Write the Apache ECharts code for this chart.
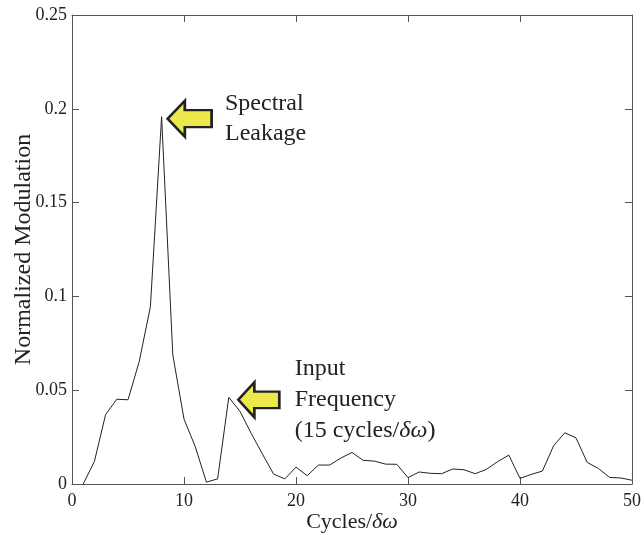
<!DOCTYPE html>
<html>
<head>
<meta charset="utf-8">
<script src="https://cdn.jsdelivr.net/npm/echarts@6/dist/echarts.min.js"></script>
<style>html,body{margin:0;padding:0;background:#fff}#c{width:642px;height:535px}</style>
</head>
<body>
<div id="c"></div>
<script>
var cycles = [1,2,3,4,5,6,7,8,9,10,11,12,13,14,15,16,17,18,19,20,21,22,23,24,25,26,27,28,29,30,31,32,33,34,35,36,37,38,39,40,41,42,43,44,45,46,47,48,49,50];
var modulation = [0,0.012,0.037,0.0452,0.0449,0.0652,0.0945,0.1958,0.0688,0.0346,0.020,0.001,0.0027,0.0462,0.0387,0.027,0.016,0.0053,0.0027,0.009,0.0044,0.0101,0.0101,0.0138,0.0168,0.0126,0.0122,0.0106,0.0105,0.0034,0.0064,0.0057,0.0055,0.008,0.0076,0.0055,0.0078,0.0119,0.0154,0.003,0.0051,0.0069,0.0204,0.0273,0.0246,0.0115,0.0083,0.0035,0.0032,0.002];
var xTicks = [0,10,20,30,40,50];
var yTicks = [0,0.05,0.1,0.15,0.2,0.25];
var leakIdx = 7;   // x = 8
var inputIdx = 13; // x = 14

var FONT = 'Liberation Serif';
var chart = echarts.init(document.getElementById('c'), null, {renderer:'canvas'});
var axisCol = '#555';
var arrowColor = '#ede94b';

function baseAxis(extra){
  return Object.assign({
    axisLine:{show:true, onZero:false, lineStyle:{color:axisCol, width:1}},
    axisTick:{show:true, inside:true, length:7, lineStyle:{color:axisCol}},
    splitLine:{show:false},
    nameMoveOverlap:false,
    axisLabel:{show:true, color:'#222', fontFamily:FONT, fontSize:18}
  }, extra);
}

var option = {
  animation:false,
  backgroundColor:'#fff',
  grid:{left:72, right:10, top:15, bottom:51, containLabel:false, outerBoundsMode:'none'},
  xAxis:[
    baseAxis({type:'value', min:xTicks[0], max:xTicks[xTicks.length-1], interval:xTicks[1]-xTicks[0], position:'bottom',
      axisLabel:{show:true, color:'#222', fontFamily:FONT, fontSize:18, margin:8},
      name:'Cycles/{i|δω}', nameLocation:'middle', nameGap:27,
      nameTextStyle:{color:'#222', fontFamily:FONT, fontSize:22,
        rich:{i:{fontStyle:'italic', fontFamily:FONT, fontSize:22, color:'#222'}}}}),
    baseAxis({type:'value', min:xTicks[0], max:xTicks[xTicks.length-1], interval:xTicks[1]-xTicks[0], position:'top',
      axisLabel:{show:false}})
  ],
  yAxis:[
    baseAxis({type:'value', min:yTicks[0], max:yTicks[yTicks.length-1], interval:yTicks[1]-yTicks[0], position:'left',
      axisLabel:{show:true, color:'#222', fontFamily:FONT, fontSize:18, margin:5},
      name:'Normalized Modulation', nameLocation:'middle', nameGap:36, nameRotate:90,
      nameTextStyle:{color:'#222', fontFamily:FONT, fontSize:24}}),
    baseAxis({type:'value', min:yTicks[0], max:yTicks[yTicks.length-1], interval:yTicks[1]-yTicks[0], position:'right',
      axisLabel:{show:false}})
  ],
  series:[{
    type:'line',
    xAxisIndex:0, yAxisIndex:0,
    data:cycles.map(function(c,i){return [c, modulation[i]];}),
    showSymbol:false,
    symbol:'none',
    lineStyle:{color:'#222', width:1},
    markPoint:{
      silent:true,
      data:[
        {coord:[cycles[leakIdx], modulation[leakIdx]],
         symbol:'path://M0,19L18,0L18,10L46,10L46,28L18,28L18,38Z',
         symbolSize:[44,36], symbolOffset:[28,2],
         itemStyle:{color:arrowColor, borderColor:'#222', borderWidth:2.5},
         label:{show:true, position:'right', distance:12, formatter:'Spectral\nLeakage',
           color:'#222', fontFamily:FONT, fontSize:24, lineHeight:30, align:'left'}},
        {coord:[cycles[inputIdx], modulation[inputIdx]],
         symbol:'path://M0,19L18,0L18,10L46,10L46,28L18,28L18,38Z',
         symbolSize:[41,35], symbolOffset:[30,2.5],
         itemStyle:{color:arrowColor, borderColor:'#222', borderWidth:2.5},
         label:{show:true, position:'right', distance:14,
           formatter:'{n|Input}\n{n|Frequency}\n{n|(15 cycles/}{i|δω}{n|)}',
           color:'#222', fontFamily:FONT, fontSize:24, lineHeight:31, align:'left',
           rich:{n:{fontFamily:FONT, fontSize:24, lineHeight:31, color:'#222'},
                 i:{fontFamily:FONT, fontSize:24, lineHeight:31, fontStyle:'italic', color:'#222'}}}}
      ]
    }
  }]
};
chart.setOption(option);
</script>
</body>
</html>
